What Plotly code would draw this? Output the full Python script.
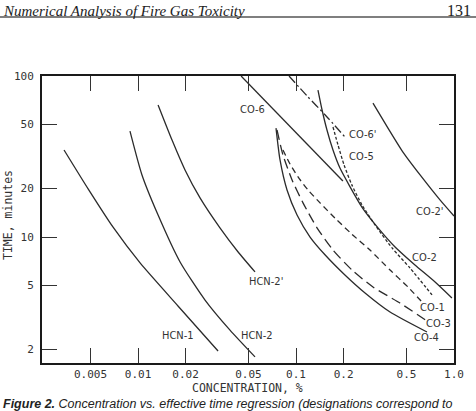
import numpy as np
import plotly.graph_objects as go

# ---- data: concentration (%) vs time (minutes) ----
hcn1_c = [0.0034, 0.00483, 0.00695, 0.0103, 0.0179, 0.0321]
hcn1_t = [34.7, 19.9, 11.5, 6.90, 3.73, 1.96]

hcn2_c = [0.00889, 0.01059, 0.01339, 0.01845, 0.02655, 0.0382, 0.0550]
hcn2_t = [45.5, 24.3, 13.7, 7.00, 4.06, 2.64, 1.80]

hcn2p_c = [0.01339, 0.01641, 0.01983, 0.02468, 0.0330, 0.0430, 0.0550]
hcn2p_t = [66.1, 40.0, 26.1, 17.5, 11.4, 8.07, 6.07]

co6_c = [0.0449, 0.198]
co6_t = [100.0, 22.3]

co6p_c = [0.0903, 0.1174, 0.153, 0.204]
co6p_t = [100.0, 75.2, 57.3, 41.8]

co2p_c = [0.307, 0.382, 0.475, 0.610, 0.815, 1.0]
co2p_t = [67.9, 47.5, 33.7, 24.3, 17.0, 13.5]

co2_c = [0.1377, 0.1462, 0.157, 0.1714, 0.1897, 0.2198, 0.2618, 0.3304, 0.4236, 0.566, 0.759, 0.970]
co2_t = [81.8, 61.5, 46.2, 34.7, 26.8, 20.5, 15.3, 11.4, 8.67, 6.70, 5.25, 4.18]

co5_c = [0.1714, 0.1845, 0.2014, 0.226, 0.2618, 0.3162, 0.4055, 0.527, 0.726]
co5_t = [48.2, 37.2, 28.0, 21.0, 15.8, 11.9, 8.55, 6.41, 4.37]

co4_c = [0.0747, 0.0792, 0.0877, 0.1015, 0.1227, 0.153, 0.204, 0.2735, 0.3936, 0.6745]
co4_t = [47.5, 30.1, 19.6, 13.7, 10.0, 7.73, 5.81, 4.49, 3.42, 2.57]

co3_c = [0.0758, 0.0827, 0.0944, 0.1107, 0.1358, 0.1714, 0.226, 0.307, 0.455, 0.6745]
co3_t = [46.2, 32.3, 22.6, 16.3, 11.4, 8.30, 6.24, 4.89, 3.89, 3.01]

co1_c = [0.0827, 0.0916, 0.1030, 0.1191, 0.1419, 0.1766, 0.226, 0.2938, 0.3936, 0.5117, 0.6266]
co1_t = [34.7, 28.4, 23.6, 19.6, 16.3, 13.1, 10.4, 8.30, 6.24, 4.89, 3.95]

x_ticks = [0.005, 0.01, 0.02, 0.05, 0.1, 0.2, 0.5, 1.0]
x_ticktext = ["0.005", "0.01", "0.02", "0.05", "0.1", "0.2", "0.5", "1.0"]
y_ticks = [2, 5, 10, 20, 50, 100]
y_ticktext = ["2", "5", "10", "20", "50", "100"]

label_names = ["CO-6", "CO-6'", "CO-5", "CO-2'", "CO-2", "CO-1", "CO-3", "CO-4",
               "HCN-1", "HCN-2", "HCN-2'"]
label_c = [0.0527, 0.2105, 0.2105, 0.705, 0.655, 0.736, 0.793, 0.6745,
           0.0179, 0.0566, 0.0646]
label_t = [61.5, 43.6, 31.8, 14.5, 7.41, 3.67, 2.92, 2.39, 2.46, 2.46, 5.33]
label_anchor = ["center", "left", "left", "center", "center", "center", "center",
                "center", "center", "center", "center"]

INK = "#2b2b2b"
series = [
    (hcn1_c, hcn1_t, "solid"),
    (hcn2_c, hcn2_t, "solid"),
    (hcn2p_c, hcn2p_t, "solid"),
    (co6_c, co6_t, "solid"),
    (co6p_c, co6p_t, "9px,3px,2px,3px"),
    (co2p_c, co2p_t, "solid"),
    (co2_c, co2_t, "solid"),
    (co5_c, co5_t, "3px,2px"),
    (co4_c, co4_t, "solid"),
    (co3_c, co3_t, "10px,5px"),
    (co1_c, co1_t, "6px,4px"),
]

fig = go.Figure()
for cx, ty, dash in series:
    fig.add_trace(go.Scatter(x=cx, y=ty, mode="lines",
                             line=dict(color=INK, width=1.3, dash=dash, shape="spline", smoothing=0.6),
                             showlegend=False, hoverinfo="skip"))

lab_font = dict(family="Liberation Sans Narrow, DejaVu Sans Condensed, Liberation Sans", size=11, color="#333")
annotations = []
for name, c, t, anc in zip(label_names, label_c, label_t, label_anchor):
    annotations.append(dict(x=np.log10(c), y=np.log10(t), xref="x", yref="y", text=name,
                            showarrow=False, xanchor=anc, yanchor="middle", font=lab_font))

# header, axis titles and caption
annotations += [
    dict(x=-0.1, y=1.2265, xref="paper", yref="paper", xanchor="left", yanchor="middle",
         text="<i>Numerical Analysis of Fire Gas Toxicity</i>", showarrow=False,
         font=dict(family="Liberation Serif", size=15, color="#222")),
    dict(x=1.046, y=1.2265, xref="paper", yref="paper", xanchor="right", yanchor="middle",
         text="131", showarrow=False, font=dict(family="Liberation Serif", size=16, color="#222")),
    dict(x=0.4976, y=-0.0871, xref="paper", yref="paper", xanchor="center", yanchor="middle",
         text="CONCENTRATION, %", showarrow=False,
         font=dict(family="DejaVu Sans Mono", size=11.5, color="#333")),
    dict(x=-0.0825, y=0.5157, xref="paper", yref="paper", xanchor="center", yanchor="middle",
         text="TIME, minutes", textangle=-90, showarrow=False,
         font=dict(family="DejaVu Sans Mono", size=11.5, color="#333")),
    dict(x=-0.1, y=-0.1429, xref="paper", yref="paper", xanchor="left", yanchor="middle",
         text="<b><i>Figure 2.</i></b><i> Concentration vs. effective time regression (designations correspond to</i>",
         showarrow=False, font=dict(family="Liberation Sans", size=12.5, color="#222")),
]

fig.update_layout(
    width=476, height=411,
    margin=dict(l=42, r=22, t=76, b=48),
    paper_bgcolor="white", plot_bgcolor="white",
    annotations=annotations,
    shapes=[dict(type="line", xref="paper", yref="paper", x0=-0.11, x1=1.06, y0=1.2056, y1=1.2056,
                 line=dict(color="#555", width=1.5))],
)
axis_common = dict(showgrid=False, zeroline=False, showline=True, linecolor="#1a1a1a", linewidth=2,
                   mirror="ticks", ticks="inside", ticklen=15, tickwidth=1.4, tickcolor="#333",
                   tickfont=dict(family="DejaVu Sans Mono", size=11, color="#333"))
fig.update_xaxes(type="log", range=[-2.608, 0], tickvals=x_ticks, ticktext=x_ticktext,
                 ticklabelstandoff=0, **axis_common)
fig.update_yaxes(type="log", range=[np.log10(1.65), 2], tickvals=y_ticks, ticktext=y_ticktext,
                 ticklabelstandoff=4, **axis_common)

fig.write_html("out.html")
